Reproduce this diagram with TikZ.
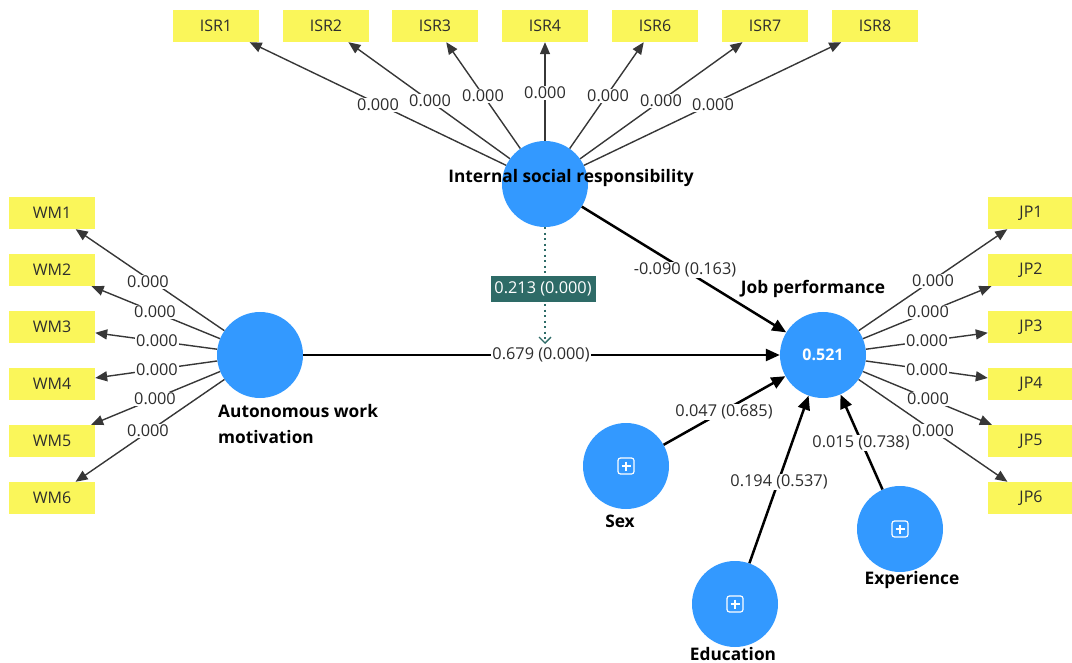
\documentclass[tikz,border=0pt]{standalone}
\usepackage{fontspec}
\setmainfont{Open Sans}
\usetikzlibrary{arrows.meta,calc}
\definecolor{ind}{RGB}{250,246,90}
\definecolor{lv}{RGB}{51,153,255}
\definecolor{modc}{RGB}{46,107,103}
\definecolor{ld}{RGB}{55,55,55}
\definecolor{txt}{RGB}{45,45,45}
\begin{document}
\begin{tikzpicture}[x=1pt,y=-1pt,
  indbox/.style={fill=ind, minimum width=86pt, minimum height=32pt, inner sep=0pt, font=\fontsize{16}{19}\selectfont, text=txt},
  lvc/.style={circle, fill=lv, minimum size=86pt, inner sep=0pt},
  lbl/.style={font=\fontsize{16.3}{19}\selectfont, text=txt, fill=white, inner sep=1pt},
  bl/.style={font=\bfseries\fontsize{17.3}{20}\selectfont, text=black},
  load/.style={draw=ld, line width=1.4pt, -{Triangle[length=12pt,width=10pt]}},
  pth/.style={draw=black, line width=2.5pt, -{Triangle[length=14pt,width=12pt]}},
  pbox/.pic={\draw[white,line width=1.2pt,rounded corners=2.5pt] (-8,-8) rectangle (8,8);
             \draw[white,line width=1.2pt] (-4.5,0)--(4.5,0) (0,-4.5)--(0,4.5);}]
\useasboundingbox (0,0) rectangle (1072,663);
% latent variables
\node[lvc] (isr) at (545,184) {};
\node[lvc] (awm) at (260,355) {};
\node[lvc] (jp) at (823,355) {};
\node[lvc] (sex) at (626,466) {};
\node[lvc] (edu) at (735,604) {};
\node[lvc] (exp) at (900,529) {};
% indicators
\foreach \n/\x in {1/216,2/326,3/435,4/545,6/655,7/765,8/875}
  \node[indbox] (isr\n) at (\x,26) {ISR\n};
\foreach \n/\y in {1/213,2/270,3/327,4/384,5/441,6/498}{
  \node[indbox] (wm\n) at (52,\y) {WM\n};
  \node[indbox] (jp\n) at (1031,\y) {JP\n};
}
% loadings
\foreach \n in {1,2,3,4,6,7,8} \draw[load] (isr) -- (isr\n);
\foreach \n in {1,...,6}{
  \draw[load] (awm) -- (wm\n);
  \draw[load] (jp) -- (jp\n);
}
\foreach \n/\x/\y in {1/378/105,2/430/101,3/483/96,4/545/93,6/608/96,7/661/101,8/713/105}
  \node[lbl] (lisr\n) at (\x,\y) {0.000};
\foreach \n/\x/\y in {1/148/282,2/155/312,3/157/341,4/157/370,5/155/399,6/148/431}
  \node[lbl] (lwm\n) at (\x,\y) {0.000};
\foreach \n/\x/\y in {1/933/281,2/928/312,3/927/341,4/927/370,5/928/399,6/933/431}
  \node[lbl] (ljp\n) at (\x,\y) {0.000};
% structural paths
\draw[pth] (awm) -- (jp);
\draw[pth] (isr) -- (jp);
\draw[pth] (sex) -- (jp);
\draw[pth] (edu) -- (jp);
\draw[pth] (exp) -- (jp);
\node[lbl] (l1) at (541,355) {0.679 (0.000)};
\node[lbl] (l2) at (685,270) {-0.090 (0.163)};
\node[lbl] (l3) at (724,412) {0.047 (0.685)};
\node[lbl] (l4) at (779,482) {0.194 (0.537)};
\node[lbl] (l5) at (861,443) {0.015 (0.738)};
% moderation
\coordinate (modend) at (545,344);
\draw[modc, line width=2.2pt, dash pattern=on 2pt off 3.5pt, -{Straight Barb[length=6pt,width=12pt,line width=1.4pt]}] (isr.south) -- (modend);
\node[fill=modc, text=white, font=\fontsize{16.3}{19}\selectfont, minimum width=105pt, minimum height=26pt, inner sep=2pt] (modlbl) at (543,289) {0.213 (0.000)};
% names
\node[bl] (nisr) at (571,178) {Internal social responsibility};
\node[bl] (njp) at (813,289) {Job performance};
\node[bl, anchor=north west, align=left, inner sep=0pt, font=\bfseries\fontsize{17.3}{26}\selectfont] (nawm) at (218,404) {Autonomous work\\motivation};
\node[bl] (nsex) at (620,521) {Sex};
\node[bl] (nedu) at (733,654) {Education};
\node[bl] (nexp) at (912,580) {Experience};
\node[font=\bfseries\fontsize{16}{19}\selectfont, text=white] (r2) at (jp) {0.521};
\pic at (sex) {pbox};
\pic at (edu) {pbox};
\pic at (exp) {pbox};
\end{tikzpicture}
\end{document}
